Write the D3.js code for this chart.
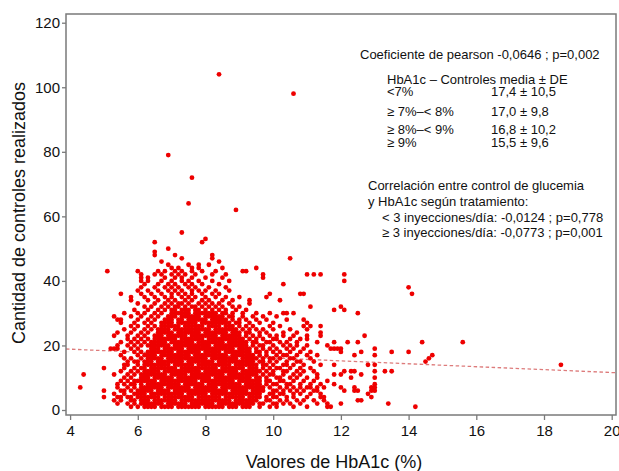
<!DOCTYPE html>
<html>
<head>
<meta charset="utf-8">
<script src="https://cdn.jsdelivr.net/npm/d3@7"></script>
<style>
  body { margin: 0; background: #fff; }
  text { font-family: "Liberation Sans", Arial, sans-serif; }
</style>
</head>
<body>
<svg id="chart" width="619" height="471"></svg>
<script>
// axis ticks
const xTicks = [4, 6, 8, 10, 12, 14, 16, 18, 20];
const yTicks = [0, 20, 40, 60, 80, 100, 120];

// number of controls (one entry per row of points)
const controles = [
  1, 2, 3, 4, 5, 6, 7, 8, 9, 10, 11, 12, 13, 14, 15, 16, 17, 18, 19, 20,
  21, 22, 23, 24, 25, 26, 27, 28, 29, 30, 31, 32, 33, 34, 35, 36, 37, 38, 39, 40,
  41, 42, 43, 44, 45, 46, 47, 48, 49, 50, 52, 53, 55, 62, 64, 72, 79, 98, 104
];

// HbA1c values (tenths of %) of the patients in each row above
const hba1cTenths = [
  "58 60 62 63 64 65 67 68 69 70 72 73 74 75 76 77 78 80 81 82 83 84 85 87 88 89 91 92 93 96 99 101 106 110 116 117 142",
  "54 57 59 61 62 63 64 65 66 67 69 70 71 72 73 74 76 77 78 79 80 81 82 84 85 86 87 88 89 90 91 92 93 94 96 97 100 101 103 105 108 113 116 120 134",
  "53 55 58 59 61 62 63 65 66 67 68 69 70 71 73 74 75 76 77 78 79 80 81 82 83 84 85 86 87 89 90 91 92 93 94 95 98 99 102 104 107 109 112 115 125 126",
  "50 54 55 57 58 60 61 62 63 64 65 66 68 69 70 71 72 73 74 75 76 78 79 80 81 82 83 84 86 87 88 89 90 91 93 94 95 96 98 100 101 104 106 110 114 115 129",
  "53 56 59 60 61 62 64 65 66 67 68 69 70 71 72 73 75 76 77 78 79 80 82 83 84 85 86 87 88 89 90 91 92 93 94 95 96 99 100 102 103 106 108 111 114 128",
  "50 55 56 58 60 61 62 63 64 66 67 68 69 71 72 73 74 75 76 77 78 79 80 81 82 83 84 85 86 88 89 90 91 92 94 95 96 97 100 101 103 105 107 109 112 113 121 124 125 129 130",
  "43 54 57 59 61 62 63 64 65 66 67 69 70 71 72 73 74 75 77 78 79 80 81 82 83 85 86 87 88 89 90 91 92 93 94 95 96 97 99 102 104 106 108 110 111 113 115 120 124 129 130",
  "54 56 58 59 61 63 64 65 66 67 68 69 70 71 72 74 75 76 77 78 79 81 82 83 84 85 86 87 88 89 90 92 93 94 95 96 98 100 101 104 105 108 111 114 118 130",
  "55 57 59 60 61 62 63 64 65 67 68 69 70 71 72 73 74 75 76 77 79 80 81 82 83 84 85 86 87 88 90 91 92 93 94 95 96 98 99 102 103 106 109 112 116",
  "56 58 61 62 63 65 66 67 68 69 70 72 73 74 75 76 77 78 79 80 81 83 84 85 86 87 88 89 90 91 92 93 95 96 98 101 102 105 107 110 113 123 130",
  "44 53 57 59 61 62 63 64 65 66 67 68 70 71 72 73 74 76 77 78 79 80 81 82 83 84 85 87 88 89 90 91 92 93 94 95 97 99 100 103 106 108 113 118 120 126",
  "55 58 60 62 63 64 65 66 68 69 70 71 72 73 74 75 76 77 78 80 81 82 83 84 85 86 87 88 89 91 92 93 94 95 96 98 100 103 104 107 109 112 121 123 124 130 133 135",
  "50 56 59 61 62 64 65 66 67 68 69 70 71 73 74 75 76 77 78 79 80 81 82 83 85 86 87 88 89 90 91 93 94 95 97 99 101 102 105 108 111",
  "56 57 60 62 63 64 65 66 67 68 69 71 72 73 74 75 76 78 79 80 81 82 83 84 85 86 87 89 90 91 92 93 94 95 97 98 100 103 104 106 109 114 118 128 130 185",
  "57 59 60 62 63 64 66 67 68 69 70 71 72 73 75 76 77 78 79 80 81 82 84 85 86 87 88 89 90 91 92 93 94 96 97 99 101 104 107 108 112 145",
  "56 58 61 63 64 65 66 67 69 70 71 72 73 74 75 76 77 78 79 80 82 83 84 85 86 87 88 89 91 92 93 94 95 97 99 100 102 105 106 111 146",
  "55 60 62 63 64 65 67 68 69 70 71 72 73 74 75 77 78 79 80 81 82 83 84 85 86 88 89 90 91 92 93 94 96 98 101 103 104 107 110 113 124 130 147",
  "56 59 61 63 64 65 66 67 68 69 70 72 73 74 75 76 77 78 80 81 82 83 84 86 87 88 89 90 91 92 93 95 96 98 100 102 105 108 111 120 126 135 140",
  "52 53 54 58 60 64 65 66 68 69 70 71 72 73 75 76 77 78 79 80 81 82 83 84 85 86 87 88 90 91 92 93 95 97 99 101 104 106 109 117 118 119 120 130",
  "54 57 59 61 63 64 65 66 67 68 69 71 72 73 74 75 76 77 78 79 80 81 83 84 85 86 87 88 89 90 91 92 94 96 97 100 103 105 107 110 116",
  "55 58 60 62 64 65 66 67 68 70 71 72 73 74 75 76 78 79 80 81 82 83 84 85 87 88 89 90 91 92 94 95 98 99 102 104 107 113 118 122 125 144 156",
  "57 59 61 63 65 66 67 68 69 70 71 73 74 75 76 77 78 79 81 82 83 84 85 86 87 88 89 90 91 93 95 97 100 101 105 108 110",
  "53 57 60 62 65 66 67 69 70 71 72 73 74 76 77 78 79 80 81 82 83 85 86 87 88 89 90 92 94 96 99 101 103 106 110 114 127",
  "54 58 61 63 66 67 68 69 70 72 73 74 75 76 77 78 80 81 82 83 84 85 86 88 89 90 92 93 96 98 103 107 114",
  "56 59 62 64 66 67 68 69 71 72 73 74 75 76 77 78 79 80 81 83 84 85 86 87 88 89 91 93 95 97 100 105 110",
  "58 60 63 65 67 68 69 70 71 72 74 75 76 77 78 79 81 82 83 84 86 87 88 90 92 94 99 102 109 111 114",
  "55 59 62 64 67 68 69 70 72 73 74 75 76 77 79 80 81 82 83 84 85 86 87 89 90 93 96 100 110",
  "54 55 60 63 65 68 69 70 72 73 75 76 77 78 79 80 82 83 84 85 86 88 90 92 95 98 104 109",
  "53 58 61 64 66 69 70 71 73 74 75 76 77 78 80 81 82 83 84 85 87 88 91 94 97 101",
  "56 60 62 65 67 70 71 72 73 74 75 77 78 79 80 81 82 83 85 86 88 91 95 99 103 104 106 125",
  "59 63 66 68 70 71 73 74 75 77 78 80 82 84 86 89 92 118 121",
  "62 64 67 69 71 72 74 76 77 79 81 83 85 88 90 111 120",
  "60 65 68 70 72 73 75 78 80 82 84 87 93",
  "58 63 66 69 71 74 76 79 81 85 88 93 102",
  "58 62 65 68 70 73 75 77 80 83 86 90 98",
  "55 61 64 67 70 72 74 76 79 82 84 99 108 109 141",
  "60 63 66 69 71 73 76 78 80 83 87",
  "61 65 68 70 72 75 77 81 86 140",
  "62 66 69 71 74 76 79 84 103",
  "61 63 67 70 73 75 78 82 87 121",
  "61 63 68 71 73 76 80 85 97",
  "61 65 67 70 72 74 77 82 86 97 110 112 114 121",
  "51 60 66 68 71 73 76 79 83 91 92",
  "70 72 76 78 85 95",
  "69 75 78 81",
  "67 84",
  "73 82 105",
  "65 71 82",
  "65",
  "69",
  "65 79",
  "80",
  "73",
  "89",
  "75",
  "76",
  "69",
  "106",
  "84"
];

// fitted regression line (HbA1c at the plot edges, predicted controls)
const trendHbA1c = [3.879, 20.127];
const trendControles = [18.9, 11.55];

// annotation texts
const pearsonText = "Coeficiente de pearson -0,0646 ; p=0,002";
const groupHeader = "HbA1c \u2013 Controles media \u00b1 DE";
const groupLabels = ["<7%", "\u2265 7%\u2013< 8%", "\u2265 8%\u2013< 9%", "\u2265 9%"];
const groupValues = ["17,4 \u00b1 10,5", "17,0 \u00b1 9,8", "16,8 \u00b1 10,2", "15,5 \u00b1 9,6"];
const treatmentLines = [
  "Correlaci\u00f3n entre control de glucemia",
  "y HbA1c seg\u00fan tratamiento:"
];
const treatmentRows = [
  "< 3 inyecciones/d\u00eda: -0,0124 ; p=0,778",
  "\u2265 3 inyecciones/d\u00eda: -0,0773 ; p=0,001"
];

// build points
const points = [];
controles.forEach((c, i) => {
  hba1cTenths[i].split(" ").forEach(t => {
    points.push({ x: +t / 10, y: c });
  });
});

const svg = d3.select("#chart");

// plot frame
const plotLeft = 66, plotRight = 616, plotTop = 14, plotBottom = 415;

const x = d3.scaleLinear().domain([3.879, 20.127]).range([plotLeft, plotRight]);
const y = d3.scaleLinear().domain([-1.55, 122.7]).range([plotBottom, plotTop]);

// x axis
const gx = svg.append("g")
  .attr("transform", `translate(0,${plotBottom})`)
  .call(d3.axisBottom(x).tickValues(xTicks).tickSize(5).tickPadding(5).tickSizeOuter(0));
gx.select(".domain").remove();
gx.selectAll("line").attr("stroke", "#7a7a7a").attr("stroke-width", 1.3);
gx.selectAll("text").attr("font-size", 15).attr("fill", "#111")
  .style("font-family", "'Liberation Sans', Arial, sans-serif");

// y axis
const gy = svg.append("g")
  .attr("transform", `translate(${plotLeft},0)`)
  .call(d3.axisLeft(y).tickValues(yTicks).tickSize(4).tickPadding(2).tickSizeOuter(0));
gy.select(".domain").remove();
gy.selectAll("line").attr("stroke", "#7a7a7a").attr("stroke-width", 1.3);
gy.selectAll("text").attr("font-size", 15).attr("fill", "#111")
  .style("font-family", "'Liberation Sans', Arial, sans-serif");

// regression line (under the points)
svg.append("line")
  .attr("x1", x(trendHbA1c[0])).attr("y1", y(trendControles[0]))
  .attr("x2", x(trendHbA1c[1])).attr("y2", y(trendControles[1]))
  .attr("stroke", "#dd7b7b")
  .attr("stroke-width", 1.3)
  .attr("stroke-dasharray", "3.5,2.5");

// scatter points
svg.append("g")
  .selectAll("circle")
  .data(points)
  .enter()
  .append("circle")
  .attr("cx", d => x(d.x))
  .attr("cy", d => y(d.y))
  .attr("r", 2.4)
  .attr("fill", "#ee0000");

// frame on top
svg.append("rect")
  .attr("x", plotLeft).attr("y", plotTop)
  .attr("width", plotRight - plotLeft).attr("height", plotBottom - plotTop)
  .attr("fill", "none")
  .attr("stroke", "#7a7a7a")
  .attr("stroke-width", 1.5);

// axis titles
svg.append("text")
  .attr("x", 334).attr("y", 468)
  .attr("text-anchor", "middle")
  .attr("font-size", 18)
  .attr("fill", "#111")
  .text("Valores de HbA1c (%)");

svg.append("text")
  .attr("transform", "translate(25,213) rotate(-90)")
  .attr("text-anchor", "middle")
  .attr("font-size", 18)
  .attr("fill", "#111")
  .text("Cantidad de controles realizados");

// annotations
const ann = svg.append("g").attr("font-size", 13).attr("fill", "#111");

ann.append("text").attr("x", 360).attr("y", 58.7).text(pearsonText);
ann.append("text").attr("x", 387).attr("y", 83.5).text(groupHeader);

const groupY = [96, 116, 134.3, 146.7];
groupLabels.forEach((g, i) => {
  ann.append("text").attr("x", 387).attr("y", groupY[i]).text(g);
  ann.append("text").attr("x", 491).attr("y", groupY[i]).text(groupValues[i]);
});

const treatY = [190, 205.7];
treatmentLines.forEach((t, i) => {
  ann.append("text").attr("x", 368).attr("y", treatY[i]).text(t);
});
const rowY = [221.7, 236.7];
treatmentRows.forEach((t, i) => {
  ann.append("text").attr("x", 382).attr("y", rowY[i]).text(t);
});
</script>
</body>
</html>
